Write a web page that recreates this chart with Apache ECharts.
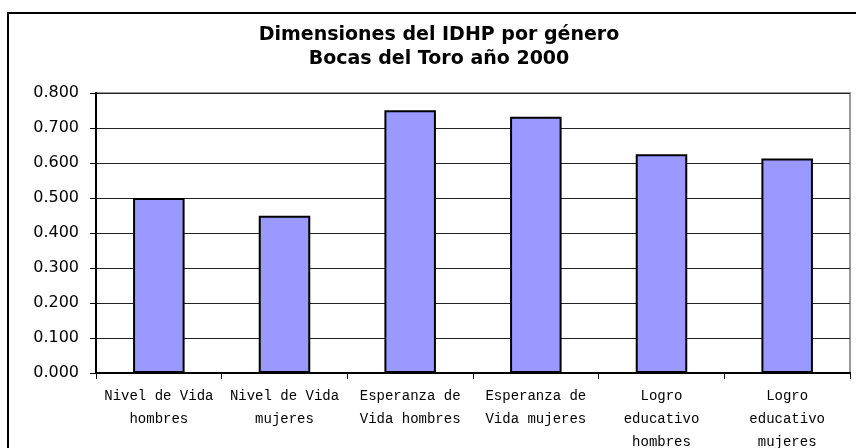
<!DOCTYPE html>
<html><head><meta charset="utf-8">
<script src="https://cdn.jsdelivr.net/npm/echarts@6/dist/echarts.min.js"></script>
<style>html,body{margin:0;padding:0;background:#fff}#c{width:856px;height:448px}</style>
</head><body><div id="c"></div>
<script>
const titleLines = ['Dimensiones del IDHP por género', 'Bocas del Toro año 2000'];
const categories = ['Nivel de Vida\nhombres', 'Nivel de Vida\nmujeres', 'Esperanza de\nVida hombres', 'Esperanza de\nVida mujeres', 'Logro\neducativo\nhombres', 'Logro\neducativo\nmujeres'];
const values = [0.500, 0.449, 0.751, 0.732, 0.625, 0.613];
const yTicks = { min: 0, max: 0.8, interval: 0.1 };

const chart = echarts.init(document.getElementById('c'));
chart.setOption({
  animation: false,
  backgroundColor: '#fff',
  graphic: [{
    type: 'rect', shape: { x: 8, y: 13, width: 900, height: 500 },
    style: { fill: 'none', stroke: '#000', lineWidth: 2 }, z: 100
  }],
  title: {
    text: titleLines.join('\n'), left: 434, top: 18, textAlign: 'center',
    textStyle: { fontFamily: 'DejaVu Sans', fontWeight: 'bold', fontSize: 19, lineHeight: 24, color: '#000' }
  },
  grid: { left: 96, right: 6, top: 93, bottom: 75, show: true, borderColor: '#999', borderWidth: 2, outerBoundsMode: 'none', containLabel: false },
  xAxis: {
    type: 'category', data: categories,
    axisLine: { lineStyle: { color: '#000', width: 2 } },
    axisTick: { show: true, length: 6, lineStyle: { color: '#000' } },
    axisLabel: { interval: 0, color: '#000', fontFamily: 'Liberation Mono', fontSize: 14, lineHeight: 23, margin: 12 }
  },
  yAxis: {
    type: 'value', min: yTicks.min, max: yTicks.max, interval: yTicks.interval,
    axisLine: { show: true, lineStyle: { color: '#000', width: 2 } },
    axisTick: { show: true, length: 6, lineStyle: { color: '#000' } },
    splitLine: { lineStyle: { color: '#222', width: 1 } },
    axisLabel: { color: '#000', fontFamily: 'DejaVu Sans', fontSize: 16, margin: 17, formatter: v => v.toFixed(3) }
  },
  series: [{
    type: 'bar', data: values, barWidth: '41%',
    itemStyle: { color: '#9999FF', borderColor: '#000', borderWidth: 2 }
  }]
});
</script></body></html>
